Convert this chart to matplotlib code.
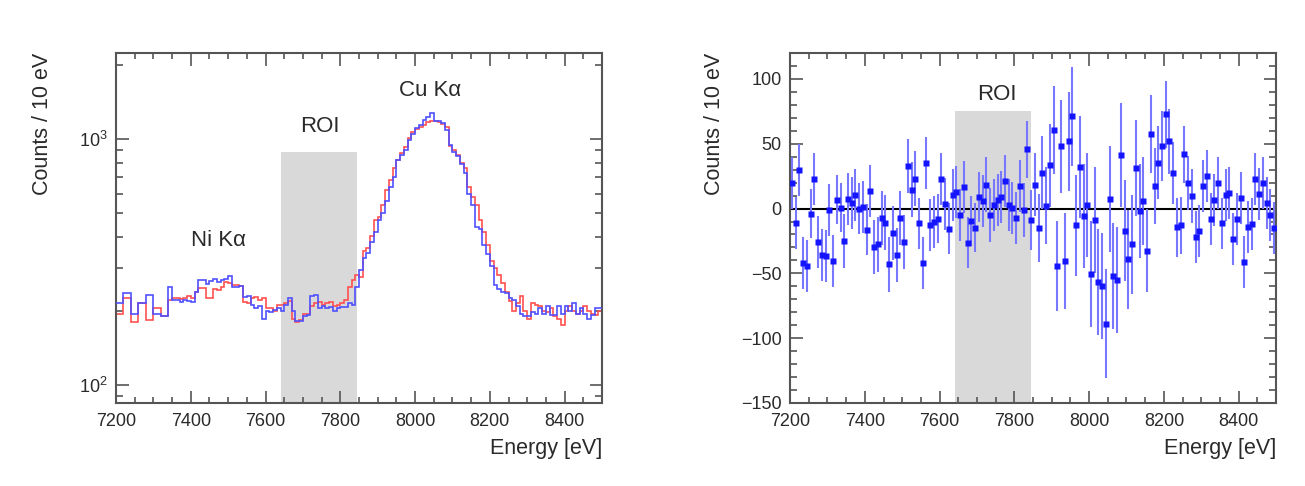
import numpy as np
import matplotlib.pyplot as plt
from matplotlib.ticker import MultipleLocator, LogLocator, NullFormatter

plt.rcParams['font.family'] = ['Liberation Sans', 'DejaVu Sans']

# 10 eV bins from 7200 to 8500 eV
e_min, e_max, bin_w = 7200, 8500, 10

# left panel: two spectra (counts / 10 eV)
counts_red = [195, 195, 225, 225, 180, 180, 215, 215, 183, 183,
              205, 205, 190, 190, 222, 225, 226, 224, 225, 230,
              226, 240, 248, 248, 226, 225, 245, 243, 250, 262,
              260, 255, 255, 252, 218, 215, 225, 228, 222, 225,
              205, 205, 200, 212, 212, 215, 220, 185, 180, 183,
              195, 195, 210, 215, 218, 212, 215, 218, 210, 212,
              215, 222, 250, 267, 280, 275, 350, 360, 405, 470,
              480, 540, 620, 680, 760, 820, 880, 930, 1010, 1070,
              1100, 1120, 1140, 1170, 1180, 1180, 1170, 1150, 1120, 940,
              900, 860, 800, 760, 640, 580, 540, 470, 420, 370,
              320, 300, 280, 260, 240, 220, 200, 215, 230, 200,
              185, 215, 212, 210, 200, 198, 205, 190, 185, 175,
              200, 210, 200, 195, 200, 210, 200, 195, 192, 200]
counts_blue = [215, 215, 237, 237, 195, 195, 215, 215, 233, 233,
               195, 195, 190, 190, 251, 222, 222, 218, 222, 220,
               218, 240, 267, 267, 258, 265, 270, 262, 268, 270,
               278, 251, 250, 252, 228, 230, 212, 205, 210, 185,
               200, 198, 202, 205, 200, 212, 225, 200, 182, 182,
               190, 192, 230, 232, 205, 210, 205, 208, 200, 205,
               208, 208, 215, 212, 251, 293, 330, 344, 380, 420,
               469, 500, 560, 640, 703, 822, 860, 902, 990, 1050,
               1110, 1140, 1200, 1230, 1275, 1180, 1180, 1160, 1090, 950,
               890, 850, 790, 730, 600, 540, 440, 430, 370, 340,
               305, 255, 245, 240, 236, 225, 222, 210, 195, 190,
               190, 198, 195, 205, 195, 210, 192, 192, 210, 195,
               210, 200, 215, 195, 205, 195, 185, 192, 205, 205]

# right panel: residuals and their errors
resid = [20, -11, 29.5, -42.3, -44.4, -4.1, 22.8, -25.6, -35.9, -36.4,
         -1.3, -40.3, 6.9, 0.8, -24.9, 7.2, 4.6, 10.3, 0, 1.3,
         -16.2, 13.6, -29.7, -27.7, -7.2, -10.8, -43, -18.7, -35.9, -7.2,
         -25.9, 33, 14.6, 23, -11.5, -42.3, 35.1, -12.8, -10.3, -7.7,
         23, 3.3, -15.4, 10.3, 12.6, -5.1, 16.4, -26.2, -9.7, -14.9,
         9, 5.6, 18.5, -5.1, 2.6, 6.4, 9, 21, 2.6, 0.5,
         -7.2, 17.4, -1.3, 45.9, -9, 18.5, -14.9, 27.7, 2.3, 33.3,
         60.3, -44.4, 47.9, -40.3, 51.8, 71, -12.8, 32, -5.9, 2.6,
         -50.5, -9, -56.7, -59.7, -89, 7.2, -51.8, -55.1, 41.5, -17.2,
         -39.2, -27.7, 31.3, -1.8, 5.6, -32.6, 57.2, 17.4, 35.4, 47.9,
         72.6, 51.8, 27.7, -14.6, -12.8, 41.8, 19.7, 9.5, -21.8, -17.2,
         17.4, 25.4, -8.2, 6.9, 19.7, -11.5, 10.3, 12.1, -23.6, -8.2,
         8.2, -41.3, -14.1, -12.1, 23, 11, 19.7, 4.4, -5.1, -14.9]
resid_err = [20, 20, 20, 20, 20, 19, 20, 20, 20, 20,
             20, 20, 19, 19, 21, 20, 20, 20, 20, 20,
             20, 20, 21, 21, 21, 21, 21, 21, 21, 21,
             21, 21, 21, 21, 20, 20, 20, 20, 20, 19,
             20, 20, 20, 20, 20, 20, 20, 20, 19, 19,
             19, 20, 21, 21, 20, 20, 20, 20, 20, 20,
             20, 20, 21, 22, 23, 24, 26, 28, 30, 32,
             34, 35, 36, 37, 38, 38, 39, 39, 40, 40,
             41, 41, 41, 41, 42, 41, 41, 41, 40, 39,
             38, 38, 37, 36, 34, 32, 30, 29, 28, 27,
             26, 25, 24, 23, 22, 22, 21, 21, 20, 20,
             20, 20, 20, 20, 20, 20, 20, 20, 20, 20,
             20, 20, 20, 20, 20, 20, 20, 20, 20, 20]

roi = (7640, 7845)
roi_top_left = 890
roi_top_right = 75

edges = np.arange(e_min, e_max + bin_w, bin_w)
centers = edges[:-1] + bin_w / 2

text_c = '#2a2a2a'
frame_c = '#555555'

fig = plt.figure(figsize=(13.05, 4.86), dpi=100)
ax1 = fig.add_axes([0.0889, 0.1708, 0.3724, 0.7202])
ax2 = fig.add_axes([0.6054, 0.1708, 0.3724, 0.7202])

# ---- left: spectra on log scale
ax1.fill_between(roi, 1, roi_top_left, color='#d9d9d9', lw=0, zorder=0)
ax1.stairs(counts_red, edges, baseline=None, color='#ff5050', lw=1.2, zorder=2)
ax1.stairs(counts_blue, edges, baseline=None, color='#5050ff', lw=1.2, zorder=3)
ax1.set_yscale('log')
ax1.set_ylim(84.5, 2240)
ax1.yaxis.set_major_locator(LogLocator(base=10, numticks=10))
ax1.yaxis.set_minor_locator(LogLocator(base=10, subs=np.arange(2, 10), numticks=20))
ax1.yaxis.set_minor_formatter(NullFormatter())
ax1.text(7473, 388, 'Ni Kα', ha='center', va='center', fontsize=16, color=text_c)
ax1.text(7746, 1120, 'ROI', ha='center', va='center', fontsize=16, color=text_c)
ax1.text(8040, 1580, 'Cu Kα', ha='center', va='center', fontsize=16, color=text_c)

# ---- right: residuals
ax2.fill_between(roi, -150, roi_top_right, color='#d9d9d9', lw=0, zorder=0)
ax2.axhline(0, color='black', lw=1.5, zorder=2)
ax2.errorbar(centers, resid, yerr=resid_err, fmt='s', ms=4.5, color='#1414ff',
             mec='none', ecolor='#7878ff', elinewidth=1.5, capsize=0, zorder=3)
ax2.set_ylim(-150, 120)
ax2.yaxis.set_major_locator(MultipleLocator(50))
ax2.yaxis.set_minor_locator(MultipleLocator(10))
ax2.text(7752, 88, 'ROI', ha='center', va='center', fontsize=16, color=text_c)

for ax in (ax1, ax2):
    ax.set_xlim(e_min, e_max)
    ax.xaxis.set_major_locator(MultipleLocator(200))
    ax.xaxis.set_minor_locator(MultipleLocator(50))
    ax.tick_params(which='both', direction='in', top=True, right=True,
                   colors=frame_c, labelcolor=text_c, width=1.2)
    ax.tick_params(axis='x', which='major', length=9, pad=7, labelsize=13)
    ax.tick_params(axis='x', which='minor', length=4)
    ax.tick_params(axis='y', which='major', length=9, pad=6, labelsize=13)
    ax.tick_params(axis='y', which='minor', length=5)
    for s in ax.spines.values():
        s.set_color(frame_c)
        s.set_linewidth(1.5)
    ax.set_xlabel('Energy [eV]', loc='right', fontsize=15.5, color=text_c)
    ax.xaxis.set_label_coords(1.0, -0.1)
    ax.set_ylabel('Counts / 10 eV', loc='top', fontsize=15.5, color=text_c)

ax1.yaxis.set_label_coords(-0.13, 1.0)
ax2.yaxis.set_label_coords(-0.134, 1.0)

fig.savefig('out.png', dpi=100, facecolor='white')
